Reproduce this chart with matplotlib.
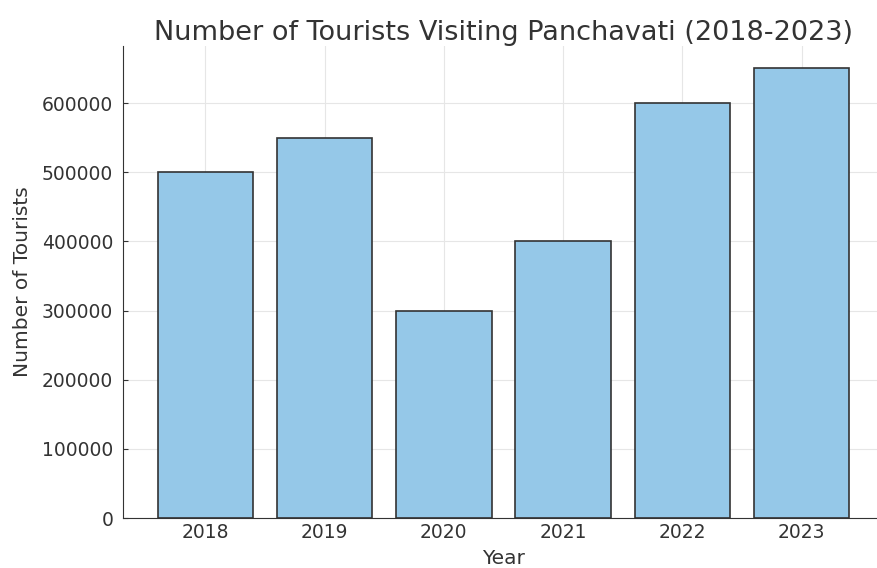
import matplotlib.pyplot as plt

years = ['2018', '2019', '2020', '2021', '2022', '2023']
tourists = [500000, 550000, 300000, 400000, 600000, 650000]


def main():
    fig = plt.figure(figsize=(8.78, 5.68), dpi=100)
    ax = fig.add_axes([123 / 878, 50 / 568, 761 / 878, 472 / 568])
    ax.set_axisbelow(True)
    ax.grid(True, color='#e6e6e6', linewidth=0.8)
    ax.bar(years, tourists, color='#95c8e8', edgecolor='#333333', linewidth=1.2)
    ax.set_title('Number of Tourists Visiting Panchavati (2018-2023)', fontsize=19.5,
                 color='#333333', pad=4)
    ax.set_xlabel('Year', fontsize=14.5, color='#333333', labelpad=5)
    ax.set_ylabel('Number of Tourists', fontsize=14.5, color='#333333', labelpad=7)
    ax.tick_params(direction='in', labelsize=13.5, colors='#333333')
    ax.tick_params(axis='y', pad=7)
    for s in ['top', 'right']:
        ax.spines[s].set_visible(False)
    for s in ['left', 'bottom']:
        ax.spines[s].set_color('#333333')
    fig.savefig('out.png', dpi=100)


if __name__ == '__main__':
    main()
